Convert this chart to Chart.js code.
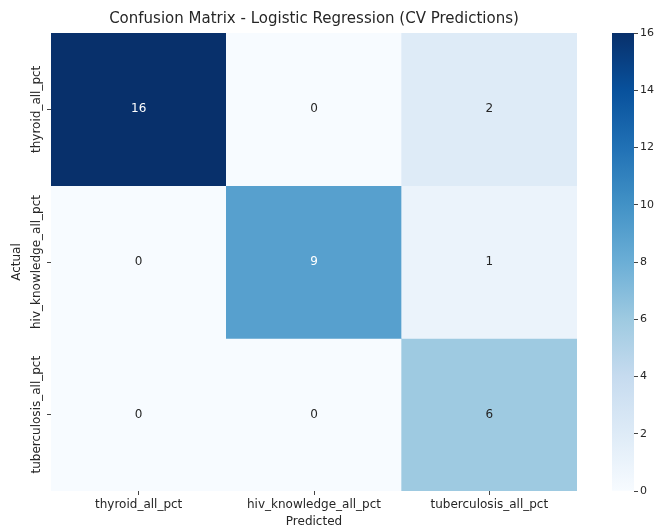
<!DOCTYPE html>
<html>
<head>
<meta charset="utf-8">
<title>Confusion Matrix</title>
<script src="https://cdn.jsdelivr.net/npm/chart.js@4.4.1/dist/chart.umd.min.js"></script>
<style>
  body { margin: 0; background: #fff; }
  #wrap { position: relative; width: 660px; height: 529px; }
  #matrix { position: absolute; left: 0; top: 0; }
  #cbar { position: absolute; left: 600px; top: 0; }
</style>
</head>
<body>
<div id="wrap">
  <canvas id="matrix" width="600" height="529"></canvas>
  <canvas id="cbar" width="60" height="529"></canvas>
</div>
<script>
// class names, predicted along x, actual along y
const predictedLabels = ["thyroid_all_pct", "hiv_knowledge_all_pct", "tuberculosis_all_pct"];
const actualLabels = ["thyroid_all_pct", "hiv_knowledge_all_pct", "tuberculosis_all_pct"];

// counts per actual class (one row each)
const rowThyroid = [16, 0, 2];
const rowHiv = [0, 9, 1];
const rowTuberculosis = [0, 0, 6];
const rows = [rowThyroid, rowHiv, rowTuberculosis];

const colorbarTicks = [0, 2, 4, 6, 8, 10, 12, 14, 16];
const vmin = 0;
const vmax = 16;

const chartTitle = "Confusion Matrix - Logistic Regression (CV Predictions)";

const FONT = "'DejaVu Sans', sans-serif";
const TEXT = "#262626";

// matplotlib "Blues"
const blues = ["#f7fbff", "#deebf7", "#c6dbef", "#9ecae1", "#6baed6",
               "#4292c6", "#2171b5", "#08519c", "#08306b"];

function hexRgb(h) {
  return [1, 3, 5].map(i => parseInt(h.slice(i, i + 2), 16));
}

function bluesRgb(t) {
  t = Math.min(1, Math.max(0, t));
  const pos = t * (blues.length - 1);
  const i = Math.min(blues.length - 2, Math.floor(pos));
  const f = pos - i;
  const a = hexRgb(blues[i]), b = hexRgb(blues[i + 1]);
  return a.map((v, k) => Math.round(v + (b[k] - v) * f));
}

function bluesColor(v) {
  const c = bluesRgb((v - vmin) / (vmax - vmin));
  return `rgb(${c[0]},${c[1]},${c[2]})`;
}

// seaborn picks the annotation colour from the cell luminance
function textColorFor(v) {
  const lin = bluesRgb((v - vmin) / (vmax - vmin)).map(c => {
    c /= 255;
    return c <= 0.03928 ? c / 12.92 : Math.pow((c + 0.055) / 1.055, 2.4);
  });
  const lum = 0.2126 * lin[0] + 0.7152 * lin[1] + 0.0722 * lin[2];
  return lum > 0.408 ? TEXT : "#ffffff";
}

// counts in the cells, vertical row labels and a title centred over the cells
const matrixText = {
  id: "matrixText",
  afterDatasetsDraw(chart) {
    const { ctx, chartArea, scales: { x, y } } = chart;
    ctx.save();
    ctx.textAlign = "center";
    ctx.textBaseline = "middle";

    ctx.font = `12px ${FONT}`;
    rows.forEach((row, r) => {
      row.forEach((v, c) => {
        ctx.fillStyle = textColorFor(v);
        ctx.fillText(String(v), x.getPixelForValue(c), y.getPixelForValue(r + 0.5));
      });
    });

    ctx.fillStyle = TEXT;
    actualLabels.forEach((label, r) => {
      ctx.save();
      ctx.translate(y.right - 14, y.getPixelForValue(r + 0.5));
      ctx.rotate(-Math.PI / 2);
      ctx.fillText(label, 0, 0);
      ctx.restore();
    });

    ctx.font = `15px ${FONT}`;
    ctx.fillText(chartTitle, (chartArea.left + chartArea.right) / 2, 19);
    ctx.restore();
  }
};

new Chart(document.getElementById("matrix"), {
  type: "bar",
  data: {
    labels: predictedLabels,
    datasets: rows.map((row, r) => ({
      label: actualLabels[r],
      data: row.map(() => [r, r + 1]),
      backgroundColor: row.map(bluesColor),
      borderWidth: 0,
      grouped: false,
      barPercentage: 1,
      categoryPercentage: 1
    }))
  },
  options: {
    responsive: false,
    animation: false,
    layout: { padding: { left: 0, right: 23, top: 33, bottom: 0 } },
    plugins: {
      legend: { display: false },
      tooltip: { enabled: false }
    },
    scales: {
      x: {
        grid: { display: true, drawOnChartArea: false, offset: false, tickLength: 4, color: "#444" },
        border: { display: false },
        ticks: { color: TEXT, font: { family: FONT, size: 12 }, padding: 3, maxRotation: 0 },
        title: { display: true, text: "Predicted", color: TEXT, font: { family: FONT, size: 12 }, padding: { top: 2, bottom: 0 } },
        afterFit(scale) { scale.height = 38; }
      },
      y: {
        type: "linear",
        min: 0,
        max: 3,
        reverse: true,
        afterBuildTicks(scale) {
          scale.ticks = actualLabels.map((_, i) => ({ value: i + 0.5 }));
        },
        grid: { display: true, drawOnChartArea: false, tickLength: 4, color: "#444" },
        border: { display: false },
        ticks: { display: false },
        title: { display: true, text: "Actual", color: TEXT, font: { family: FONT, size: 12 }, padding: { top: 10, bottom: 0 } },
        afterFit(scale) { scale.width = 51; }
      }
    }
  },
  plugins: [matrixText]
});

// colorbar: one floating bar over the full value range, filled with the colormap
new Chart(document.getElementById("cbar"), {
  type: "bar",
  data: {
    labels: [""],
    datasets: [{
      data: [[vmin, vmax]],
      borderWidth: 0,
      barPercentage: 1,
      categoryPercentage: 1,
      backgroundColor(context) {
        const { chart } = context;
        const y = chart.scales.y;
        if (!chart.chartArea || !y) return bluesColor((vmin + vmax) / 2);
        const g = chart.ctx.createLinearGradient(0, y.getPixelForValue(vmin), 0, y.getPixelForValue(vmax));
        blues.forEach((c, i) => g.addColorStop(i / (blues.length - 1), c));
        return g;
      }
    }]
  },
  options: {
    responsive: false,
    animation: false,
    layout: { padding: { left: 12, right: 0, top: 33, bottom: 38 } },
    plugins: { legend: { display: false }, tooltip: { enabled: false } },
    scales: {
      x: { display: false },
      y: {
        position: "right",
        min: vmin,
        max: vmax,
        afterBuildTicks(scale) {
          scale.ticks = colorbarTicks.map(v => ({ value: v }));
        },
        grid: { display: true, drawOnChartArea: false, tickLength: 4, color: "#444" },
        border: { display: false },
        ticks: { color: TEXT, font: { family: FONT, size: 11 }, padding: 2 },
        afterFit(scale) { scale.width = 26; }
      }
    }
  }
});
</script>
</body>
</html>
